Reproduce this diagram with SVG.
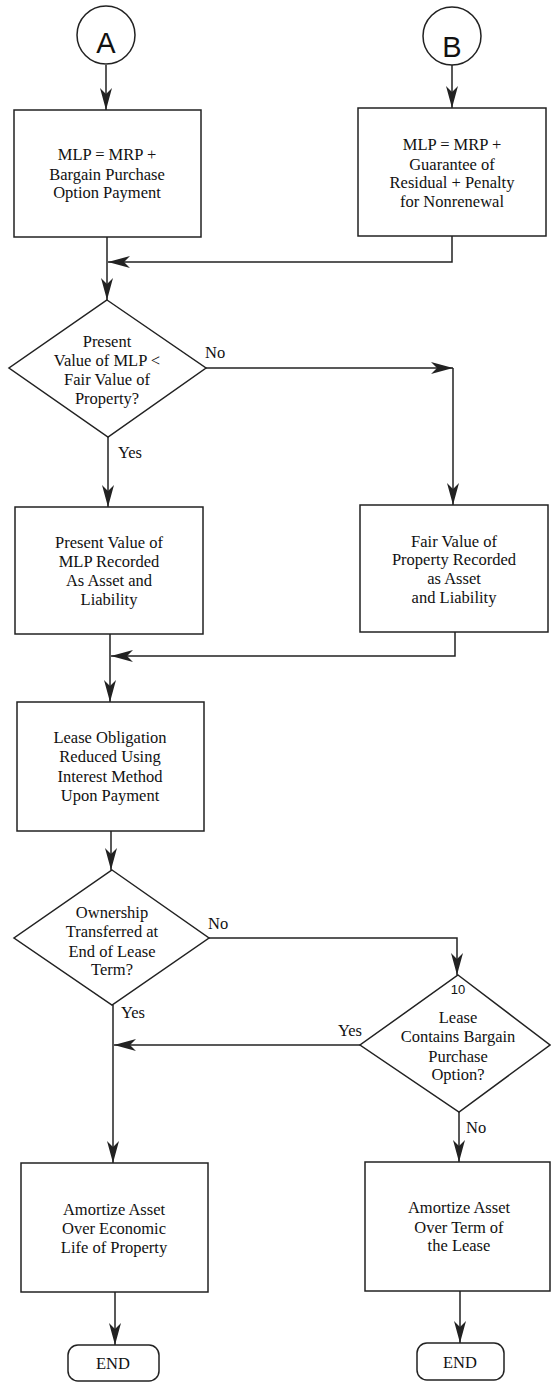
<svg xmlns="http://www.w3.org/2000/svg" width="551" height="1383" viewBox="0 0 551 1383">
<style>
.shape{fill:#fff;stroke:#222;stroke-width:1.5}
.edge{fill:none;stroke:#222;stroke-width:1.5;marker-end:url(#arr)}
.t{font-family:'Liberation Serif','Times New Roman',Times,serif;font-size:16.5px;fill:#111;text-anchor:middle}
.lbl{font-family:'Liberation Serif','Times New Roman',Times,serif;font-size:16.5px;fill:#111}
.big{font-family:'Liberation Sans',Arial,sans-serif;font-size:29px;fill:#111;text-anchor:middle}
.small{font-family:'Liberation Sans',Arial,sans-serif;font-size:13px;fill:#111;text-anchor:middle}
</style>
<defs>
<marker id="arr" viewBox="0 0 22 12" refX="22" refY="6" markerWidth="22" markerHeight="12" markerUnits="userSpaceOnUse" orient="auto">
<path d="M0,0 L22,6 L0,12 L6,6 Z" fill="#222"/>
</marker>
</defs>
<rect width="551" height="1383" fill="#fff"/>

<g id="connectors">
<path class="edge" d="M106,65 V110"/>
<path class="edge" d="M452,65 V108"/>
<path class="edge" d="M452,236 V262 H108"/>
<path class="edge" d="M107,237 V300"/>
<path class="edge" d="M206,368 H453"/>
<path class="edge" d="M453,368 V505"/>
<path class="edge" d="M108,437 V507"/>
<path class="edge" d="M455,632 V656 H111"/>
<path class="edge" d="M110,634 V702"/>
<path class="edge" d="M111,831 V870"/>
<path class="edge" d="M209,938 H457 V975"/>
<path class="edge" d="M113,1005 V1163"/>
<path class="edge" d="M360,1045 H114"/>
<path class="edge" d="M459,1112 V1162"/>
<path class="edge" d="M115,1292 V1345"/>
<path class="edge" d="M460,1291 V1343"/>
<g font-family="Liberation Serif, Times New Roman, serif">
<text class="lbl" x="205" y="358">No</text>
<text class="lbl" x="118" y="458">Yes</text>
<text class="lbl" x="208" y="929">No</text>
<text class="lbl" x="121" y="1018">Yes</text>
<text class="lbl" x="338" y="1036">Yes</text>
<text class="lbl" x="466" y="1133">No</text>
</g>
</g>

<g id="connA">
<circle class="shape" cx="106" cy="35" r="29"/>
<text class="big" x="106" y="53">A</text>
</g>
<g id="connB">
<circle class="shape" cx="452" cy="36" r="29"/>
<text class="big" x="452" y="57">B</text>
</g>

<g id="box1">
<rect class="shape" x="14" y="110" width="187" height="127"/>
<text class="t" x="107" y="160">MLP = MRP +</text>
<text class="t" x="107" y="180">Bargain Purchase</text>
<text class="t" x="107" y="198">Option Payment</text>
</g>

<g id="box2">
<rect class="shape" x="358" y="108" width="188" height="128"/>
<text class="t" x="452" y="150">MLP = MRP +</text>
<text class="t" x="452" y="170">Guarantee of</text>
<text class="t" x="452" y="188">Residual + Penalty</text>
<text class="t" x="452" y="207">for Nonrenewal</text>
</g>

<g id="dec1">
<polygon class="shape" points="107,300 206,368 108,437 9,368"/>
<text class="t" x="107" y="347">Present</text>
<text class="t" x="107" y="366">Value of MLP &lt;</text>
<text class="t" x="107" y="385">Fair Value of</text>
<text class="t" x="107" y="404">Property?</text>
</g>

<g id="box3">
<rect class="shape" x="15" y="507" width="188" height="127"/>
<text class="t" x="109" y="548">Present Value of</text>
<text class="t" x="109" y="567">MLP Recorded</text>
<text class="t" x="109" y="586">As Asset and</text>
<text class="t" x="109" y="605">Liability</text>
</g>

<g id="box4">
<rect class="shape" x="360" y="505" width="188" height="127"/>
<text class="t" x="454" y="547">Fair Value of</text>
<text class="t" x="454" y="565">Property Recorded</text>
<text class="t" x="454" y="584">as Asset</text>
<text class="t" x="454" y="603">and Liability</text>
</g>

<g id="box5">
<rect class="shape" x="17" y="702" width="187" height="129"/>
<text class="t" x="110" y="743">Lease Obligation</text>
<text class="t" x="110" y="762">Reduced Using</text>
<text class="t" x="110" y="782">Interest Method</text>
<text class="t" x="110" y="801">Upon Payment</text>
</g>

<g id="dec2">
<polygon class="shape" points="112,870 209,938 112,1005 14,938"/>
<text class="t" x="112" y="918">Ownership</text>
<text class="t" x="112" y="937">Transferred at</text>
<text class="t" x="112" y="957">End of Lease</text>
<text class="t" x="112" y="975">Term?</text>
</g>

<g id="dec3">
<polygon class="shape" points="458,975 550,1045 459,1112 360,1045"/>
<text class="small" x="458" y="994">10</text>
<text class="t" x="458" y="1023">Lease</text>
<text class="t" x="458" y="1042">Contains Bargain</text>
<text class="t" x="458" y="1062">Purchase</text>
<text class="t" x="458" y="1080">Option?</text>
</g>

<g id="box6">
<rect class="shape" x="21" y="1163" width="187" height="129"/>
<text class="t" x="114" y="1215">Amortize Asset</text>
<text class="t" x="114" y="1234">Over Economic</text>
<text class="t" x="114" y="1253">Life of Property</text>
</g>

<g id="box7">
<rect class="shape" x="365" y="1162" width="185" height="129"/>
<text class="t" x="459" y="1213">Amortize Asset</text>
<text class="t" x="459" y="1233">Over Term of</text>
<text class="t" x="459" y="1251">the Lease</text>
</g>

<g id="end1">
<rect class="shape" x="68" y="1345" width="91" height="36" rx="10"/>
<text class="t" x="113" y="1369">END</text>
</g>
<g id="end2">
<rect class="shape" x="417" y="1343" width="87" height="37" rx="10"/>
<text class="t" x="460" y="1368">END</text>
</g>
</svg>
